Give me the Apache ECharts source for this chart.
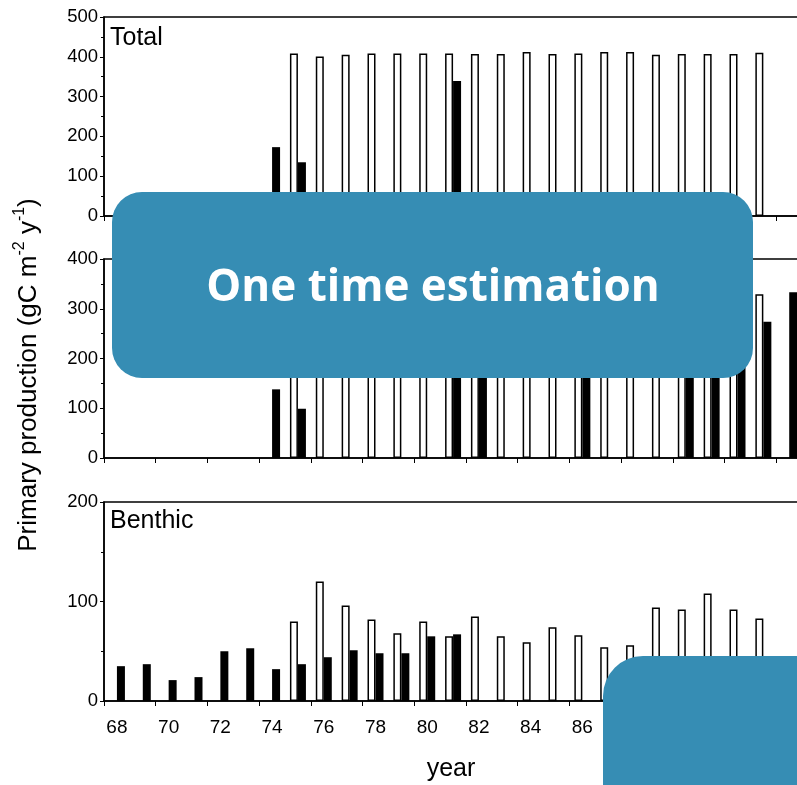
<!DOCTYPE html>
<html>
<head>
<meta charset="utf-8">
<script src="https://cdn.jsdelivr.net/npm/echarts@6/dist/echarts.min.js"></script>
<style>html,body{margin:0;padding:0;background:#fff}#c{width:797px;height:785px}</style>
</head>
<body>
<div id="c"></div>
<script>
// ---- data ----
var years = ['68','69','70','71','72','73','74','75','76','77','78','79','80','81','82','83','84','85','86','87','88','89','90','91','92','93','94','95'];
// Total panel (gC m-2 y-1)
var totalOpen   = [null,null,null,null,null,null,null,408,401,405,408,408,408,408,407,407,412,407,408,412,412,405,407,407,407,410,null,null];
var totalFilled = [null,null,null,null,null,null,173,135,null,null,null,null,null,339,null,null,null,null,null,null,null,null,null,null,null,null,null,null];
// Pelagic panel (partly hidden by the overlay, hidden values estimated)
var pelagicOpen   = [null,null,null,null,null,null,null,328,281,309,326,340,328,343,322,342,353,333,342,358,356,311,315,299,315,329,null,null];
var pelagicFilled = [null,null,null,null,null,null,138,99,null,null,null,null,null,272,250,null,null,null,230,null,null,null,240,260,285,274,333,null];
// Benthic panel
var benthicOpen   = [null,null,null,null,null,null,null,80,120,96,82,68,80,65,85,65,59,74,66,54,56,94,92,108,92,83,null,null];
var benthicFilled = [35,37,21,24,50,53,32,37,44,51,48,48,65,67,null,null,null,null,null,null,null,null,null,null,null,null,null,null];
var panelNames = ['Total','Pelagic','Benthic'];
var yMax = [500,400,200];

var FONT = '"Liberation Sans", Arial, sans-serif';
var chart = echarts.init(document.getElementById('c'));

var grids = [
  {left:104, top:17,  width:724, height:199},
  {left:104, top:259, width:724, height:199},
  {left:104, top:502, width:724, height:199}
];
grids.forEach(function(g){
  g.show = true; g.borderColor = '#000'; g.borderWidth = 1.5; g.backgroundColor = 'transparent';
  g.outerBoundsMode = 'none'; g.containLabel = false;
});

var xAxes = [0,1,2].map(function(i){
  return {
    type:'category', gridIndex:i, data:years,
    axisLine:{lineStyle:{color:'#000', width:1.5}},
    axisTick:{show:true, length:5, lineStyle:{color:'#000', width:1}},
    axisLabel:{show: i===2, interval:1, fontSize:19, color:'#000', fontFamily:FONT, margin:17}
  };
});
var yAxes = [0,1,2].map(function(i){
  return {
    type:'value', gridIndex:i, min:0, max:yMax[i], interval:100,
    axisLine:{show:true, lineStyle:{color:'#000', width:1.5}},
    axisTick:{show:true, length:4, lineStyle:{color:'#000', width:1}},
    minorTick:{show:true, splitNumber:2, length:3, lineStyle:{color:'#000', width:1}},
    splitLine:{show:false},
    axisLabel:{fontSize:18.5, color:'#000', fontFamily:FONT, margin:6}
  };
});

function openSeries(data, i){
  return {type:'bar', xAxisIndex:i, yAxisIndex:i, data:data, barWidth:8, barGap:'0%',
    itemStyle:{color:'#fff', borderColor:'#000', borderWidth:1.5}, silent:true};
}
function filledSeries(data, i){
  return {type:'bar', xAxisIndex:i, yAxisIndex:i, data:data, barWidth:8, barGap:'0%',
    itemStyle:{color:'#000'}, silent:true};
}

var series = [
  openSeries(totalOpen,0), filledSeries(totalFilled,0),
  openSeries(pelagicOpen,1), filledSeries(pelagicFilled,1),
  openSeries(benthicOpen,2), filledSeries(benthicFilled,2)
];

var graphic = [
  {type:'text', x:110, y:26, z:50, style:{text:panelNames[0], fill:'#000', fontSize:25, fontFamily:FONT, align:'left', verticalAlign:'top'}},
  {type:'text', x:110, y:266, z:50, style:{text:panelNames[1], fill:'#000', fontSize:25, fontFamily:FONT, align:'left', verticalAlign:'top'}},
  {type:'text', x:110, y:509, z:50, style:{text:panelNames[2], fill:'#000', fontSize:25, fontFamily:FONT, align:'left', verticalAlign:'top'}},
  {type:'text', x:451, y:769, z:50, style:{text:'year', fill:'#000', fontSize:25, fontFamily:FONT, align:'center', verticalAlign:'middle'}},
  {type:'text', x:27, y:375, rotation:Math.PI/2, z:50, style:{
    text:'{a|Primary production (gC m}{s|-2}{a| y}{s|-1}{a|)}',
    align:'center', verticalAlign:'middle', fill:'#000',
    rich:{a:{fontSize:26, fontFamily:FONT, lineHeight:30, verticalAlign:'bottom'}, s:{fontSize:16, fontFamily:FONT, verticalAlign:'top'}}
  }},
  {type:'rect', z:100, shape:{x:112, y:192, width:641, height:186, r:30}, style:{fill:'#368DB4'}},
  {type:'text', z:101, x:433, y:288, style:{text:'One time estimation', fill:'#fff', fontSize:44, fontWeight:'bold', fontFamily:'"Open Sans", "Noto Sans", sans-serif', align:'center', verticalAlign:'middle'}},
  {type:'rect', z:100, shape:{x:603, y:656, width:300, height:200, r:40}, style:{fill:'#368DB4'}}
];

chart.setOption({
  animation:false,
  grid:grids, xAxis:xAxes, yAxis:yAxes, series:series, graphic:graphic
});
</script>
</body>
</html>
